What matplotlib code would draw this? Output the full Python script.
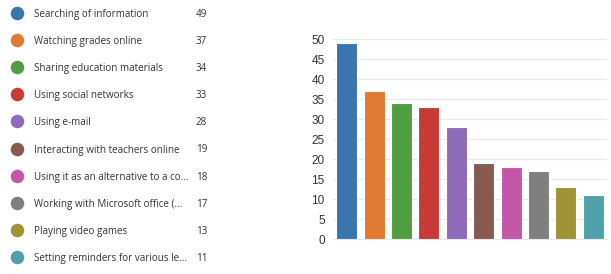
import matplotlib.pyplot as plt

# ─── Data ─────────────────────────────────────────────────────────────────────
CATEGORIES = [
    "Searching of information",
    "Watching grades online",
    "Sharing education materials",
    "Using social networks",
    "Using e-mail",
    "Interacting with teachers online",
    "Using it as an alternative to a co...",
    "Working with Microsoft office (...",
    "Playing video games",
    "Setting reminders for various le...",
]
VALUES = [49, 37, 34, 33, 28, 19, 18, 17, 13, 11]
Y_TICKS = [0, 5, 10, 15, 20, 25, 30, 35, 40, 45, 50]

COLOURS = ["#3a75b0", "#e07a32", "#509e3f", "#c83a35", "#8d6bb8",
           "#875a50", "#c456a8", "#7f7f7f", "#a09335", "#50a0ae"]

FONT = "Open Sans"
TEXT_COL = "#333333"

W, H = 611, 274
fig = plt.figure(figsize=(W / 100, H / 100), dpi=100)

# ─── Legend list on the left ──────────────────────────────────────────────────
leg = fig.add_axes([0, 0, 1, 1])
leg.set_xlim(0, W)
leg.set_ylim(H, 0)
leg.axis("off")
for i, (name, val, col) in enumerate(zip(CATEGORIES, VALUES, COLOURS)):
    y = 13 + i * 27.1
    leg.scatter([17], [y], s=95, color=col, zorder=3, linewidths=0)
    leg.text(34, y + 1.5, name, fontsize=7.1, family=FONT, color=TEXT_COL,
             va="center", ha="left")
    leg.text(196, y + 1.5, str(val), fontsize=7.1, family=FONT, color=TEXT_COL,
             va="center", ha="left")

# ─── Bar chart ────────────────────────────────────────────────────────────────
ax = fig.add_axes([333 / W, 1 - 239 / H, 274 / W, 200 / H])
x = range(len(VALUES))
ax.bar(x, VALUES, width=0.77, color=COLOURS, edgecolor="#ffffff",
       linewidth=0.8, zorder=3)
ax.set_xlim(-0.5, 9.5)
ax.set_ylim(0, 50)
ax.set_yticks(Y_TICKS)
ax.set_yticklabels([str(t) for t in Y_TICKS], family="Liberation Sans",
                   fontsize=8.5, color=TEXT_COL)
ax.set_xticks([])
ax.tick_params(axis="y", length=0, pad=6)
ax.grid(axis="y", color="#e8e8e8", linewidth=0.9, zorder=0)
for s in ["top", "right", "left"]:
    ax.spines[s].set_visible(False)
ax.spines["bottom"].set_color("#e8e8e8")
ax.spines["bottom"].set_linewidth(0.9)

plt.savefig("out.png", dpi=100)
